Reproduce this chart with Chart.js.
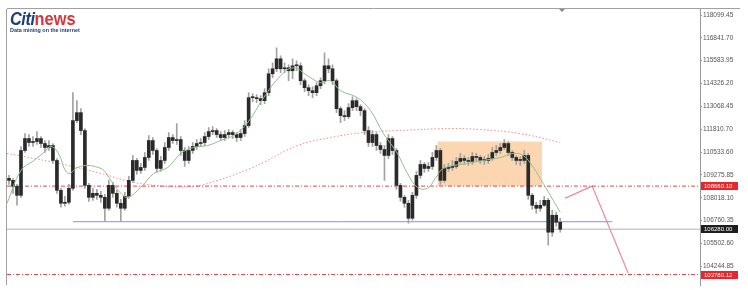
<!DOCTYPE html>
<html>
<head>
<meta charset="utf-8">
<script src="https://cdn.jsdelivr.net/npm/chart.js@4.4.1/dist/chart.umd.min.js"></script>
<style>
    html, body { margin: 0; padding: 0; background: #fff; }
    #wrap { position: relative; width: 748px; height: 290px; }
    #logo { position: absolute; left: 8px; top: 9px; width: 82px; height: 25px; background: #fff; }
    #logo .brand { position: absolute; left: 2px; top: -1px; font-family: "Liberation Sans", Arial, sans-serif; font-weight: bold; font-size: 19px; white-space: nowrap; transform: scaleX(0.86); transform-origin: left top; }
    #logo .citi { color: #1d3f7a; font-style: italic; letter-spacing: -0.5px; }
    #logo .news { color: #d8343c; }
    #logo .tag { position: absolute; left: 2px; top: 18px; font-family: "Liberation Sans", Arial, sans-serif; font-weight: bold; font-size: 5.4px; color: #1d3f7a; white-space: nowrap; }
</style>
</head>
<body>
<div id="wrap">
    <canvas id="priceChart"></canvas>
    <div id="logo"><div class="brand"><span class="citi">Citi</span><span class="news">news</span></div><div class="tag">Data mining on the internet</div></div>
</div>
<script>
// ローソク足データ (インデックス順)
const closes = [108977, 108647, 108152, 110627, 111287, 111067, 111122, 111287, 111012, 110792,
    110902, 110077, 108427, 107712, 107767, 108537, 112277, 112717, 111727, 108702,
    108042, 108262, 108152, 108042, 107437, 108702, 108262, 107712, 107437, 108097,
    108977, 110077, 109527, 109692, 110242, 111177, 110627, 109637, 110077, 110792,
    111342, 111177, 111232, 110627, 110077, 110627, 110847, 111012, 111067, 111397,
    111672, 111727, 111507, 111342, 111507, 111617, 111507, 111342, 111562, 112002,
    113542, 113542, 113487, 113377, 113817, 114862, 115137, 115687, 115137, 115192,
    115027, 115302, 115302, 114477, 114092, 113927, 113817, 114202, 114477, 115302,
    115137, 114477, 112937, 112552, 112497, 112992, 113377, 113047, 112827, 111727,
    111067, 111507, 110902, 110682, 110352, 111287, 110627, 108702, 108042, 107712,
    106887, 108152, 109252, 109857, 109637, 109747, 110242, 110627, 108977, 109637,
    109692, 109747, 110022, 110187, 110077, 110022, 110297, 110242, 110077, 110077,
    110187, 110517, 110627, 110792, 111012, 110517, 110242, 110077, 110077, 110352,
    108152, 107602, 107437, 107602, 107877, 106117, 107052, 106667, 106282];
const highs = [109252, 109087, 108757, 110847, 111562, 111507, 111397, 111672, 111397, 111177,
    111177, 111012, 110187, 108537, 108097, 108757, 113817, 113377, 112937, 111837,
    108812, 108537, 108482, 108372, 108207, 108977, 108867, 108427, 107932, 108317,
    109197, 110352, 110187, 109912, 110517, 111452, 111342, 110737, 110297, 111067,
    111617, 111507, 112112, 111397, 110792, 110847, 111067, 111232, 111287, 111617,
    111892, 111947, 111837, 111672, 111727, 111782, 111727, 111617, 111782, 112277,
    113817, 113762, 113707, 113652, 114037, 115137, 115467, 116292, 115852, 115467,
    115357, 115687, 115577, 115467, 114587, 114257, 114147, 114367, 114642, 116017,
    115687, 115357, 114587, 113047, 112827, 113212, 113597, 113487, 113157, 112937,
    111947, 111727, 111617, 111067, 110902, 111507, 111397, 110737, 108812, 108152,
    107877, 108317, 109472, 110077, 109967, 109967, 110517, 110902, 110737, 109857,
    109912, 110077, 110242, 110462, 110352, 110242, 110517, 110462, 110352, 110297,
    110407, 110792, 110902, 111012, 111232, 111122, 110627, 110352, 110297, 110627,
    110462, 108262, 107767, 107877, 108097, 107987, 107327, 107217, 106887];
const lows = [108757, 108262, 107602, 108042, 110517, 110847, 110847, 110957, 110792, 110517,
    110627, 109912, 108262, 107492, 107547, 107657, 108427, 112167, 111507, 108537,
    107822, 107877, 107932, 107767, 106722, 107327, 108042, 107492, 106722, 107327,
    107987, 108867, 109307, 109362, 109527, 110077, 110407, 109417, 109472, 109912,
    110627, 111012, 110957, 110352, 109747, 109912, 110462, 110682, 110847, 110902,
    111232, 111507, 111342, 111177, 111177, 111342, 111287, 111122, 111177, 111397,
    111892, 113322, 113267, 113157, 113212, 113652, 114642, 114972, 114917, 114917,
    114477, 114587, 115027, 114257, 113872, 113652, 113542, 113652, 114037, 114312,
    114917, 114257, 112717, 112167, 112277, 112387, 112827, 112827, 112552, 111507,
    110847, 110847, 110627, 110462, 108977, 110187, 110407, 108482, 107822, 107492,
    106612, 106777, 107987, 109087, 109417, 109472, 109582, 110077, 108757, 108867,
    109472, 109527, 109637, 109912, 109857, 109802, 109857, 110022, 109912, 109857,
    109912, 110077, 110352, 110462, 110682, 110352, 110077, 109857, 109802, 109912,
    107932, 107382, 107162, 107272, 107547, 105402, 105897, 106447, 106117];
const firstOpen = 109087;

// 移動平均線 (短期: 緑, 長期: 赤点線)
const maFast = [[-0.5, 107712], [3, 109527], [6.25, 110077], [8.75, 110517], [10.5, 110847],
    [12.25, 110517], [14.75, 109362], [17.25, 109692], [19.75, 109802], [22.25, 109692],
    [23.75, 109527], [25.5, 108977], [28, 108262], [29.75, 108042], [33, 108592],
    [36.25, 109362], [39.75, 109692], [43, 110462], [46.25, 110792], [49.75, 110902],
    [53, 111177], [56.25, 111452], [59.75, 112167], [63.75, 113542], [68, 114752],
    [71.25, 115192], [74.75, 114752], [78, 114367], [80.5, 114477], [83, 113927],
    [87.25, 113542], [90.5, 112827], [93.75, 111562], [97.25, 110462], [99.75, 109362],
    [102.25, 108592], [104.75, 108537], [106.75, 109087], [108.75, 109637], [114.75, 109912],
    [118.75, 110077], [123, 110242], [126.25, 110462], [128.75, 110352], [131.25, 109692],
    [133.75, 108812], [136.25, 107877], [138, 107217]];
const maSlow = [[-0.5, 110462], [6.25, 110187], [14.75, 109802], [23, 109362], [31.25, 108867],
    [39.75, 108647], [46.25, 108647], [52.25, 108977], [60.5, 109637], [63.75, 109967],
    [72.25, 110902], [80.5, 111342], [88.75, 111617], [97.25, 111727], [110.5, 111837],
    [118, 111782], [128, 111562], [138, 111067]];

// 水平線・ゾーン・予測線
const resistanceLevel = 108660;
const targetLevel = 103780;
const supportLevel = 106695;
const lastPrice = 106282;
const zoneTop = 111122;
const zoneRange = [107.25, 133.5];
const supportRange = [16, 151];
const projection = [[139.25, 107997], [146, 108660], [155, 103862]];

// 右軸の目盛
const tickValues = [118099.45, 116841.70, 115583.95, 114326.20, 113068.45, 111810.70,
    110533.60, 109275.85, 108018.10, 106760.35, 105502.60, 104244.85];
const tickLabels = ['118099.45', '116841.70', '115583.95', '114326.20', '113068.45', '111810.70',
    '110533.60', '109275.85', '108018.10', '106760.35', '105502.60', '104244.85'];
const markerValues = [resistanceLevel, lastPrice, targetLevel];
const markerLabels = ['108660.10', '106280.00', '103780.12'];
const markerColors = ['#e8262b', '#1e1e1e', '#e8262b'];

const X_MIN = -0.5;
const X_MAX = 173;

const toPoints = arr => arr.map(p => ({ x: p[0], y: p[1] }));
const wickData = closes.map((c, i) => ({ x: i, y: [lows[i], highs[i]] }));
const bodyData = closes.map((c, i) => ({ x: i, y: [i === 0 ? firstOpen : closes[i - 1], c] }));

// 枠線と価格ラベル
const overlayPlugin = {
    id: 'overlay',
    afterDraw(chart) {
        const { ctx, chartArea } = chart;
        const y = chart.scales.y;
        ctx.save();
        ctx.strokeStyle = '#a0a0a0';
        ctx.lineWidth = 1;
        ctx.beginPath();
        ctx.moveTo(chartArea.left - 0.5, chartArea.top);
        ctx.lineTo(chartArea.left - 0.5, chartArea.bottom);
        ctx.moveTo(chartArea.left, chartArea.top - 0.5);
        ctx.lineTo(740, chartArea.top - 0.5);
        ctx.stroke();
        // シフトマーカー
        ctx.fillStyle = '#8a8a8a';
        ctx.beginPath();
        ctx.moveTo(559, chartArea.top);
        ctx.lineTo(565, chartArea.top);
        ctx.lineTo(562, chartArea.top + 3);
        ctx.closePath();
        ctx.fill();
        ctx.font = '6px "Liberation Sans", Arial, sans-serif';
        ctx.textBaseline = 'middle';
        markerValues.forEach((v, i) => {
            const py = Math.round(y.getPixelForValue(v));
            ctx.fillStyle = markerColors[i];
            ctx.fillRect(chartArea.right + 1, py - 4, 37, 8);
            ctx.fillStyle = '#fff';
            ctx.fillText(markerLabels[i], chartArea.right + 4, py + 0.5);
        });
        ctx.restore();
    }
};

const ctx = document.getElementById('priceChart').getContext('2d');
new Chart(ctx, {
    type: 'bar',
    data: {
        datasets: [
            {
                type: 'line',
                data: [{ x: zoneRange[0], y: zoneTop }, { x: zoneRange[1], y: zoneTop }],
                borderWidth: 0,
                pointRadius: 0,
                backgroundColor: 'rgba(250, 198, 146, 0.72)',
                fill: { value: resistanceLevel },
                order: 20
            },
            {
                type: 'line',
                data: toPoints(maSlow),
                borderColor: '#f28b8b',
                borderWidth: 1,
                borderDash: [1.5, 2],
                pointRadius: 0,
                tension: 0.4,
                order: 12
            },
            {
                type: 'line',
                data: [{ x: X_MIN, y: resistanceLevel }, { x: X_MAX, y: resistanceLevel }],
                borderColor: '#e3474a',
                borderWidth: 1,
                borderDash: [4, 2, 1, 2],
                pointRadius: 0,
                order: 11
            },
            {
                type: 'line',
                data: [{ x: X_MIN, y: targetLevel }, { x: X_MAX, y: targetLevel }],
                borderColor: '#e3474a',
                borderWidth: 1,
                borderDash: [4, 2, 1, 2],
                pointRadius: 0,
                order: 11
            },
            {
                type: 'line',
                data: [{ x: X_MIN, y: lastPrice }, { x: X_MAX, y: lastPrice }],
                borderColor: '#b4b4b4',
                borderWidth: 1,
                pointRadius: 0,
                order: 11
            },
            {
                type: 'line',
                data: [{ x: supportRange[0], y: supportLevel }, { x: supportRange[1], y: supportLevel }],
                borderColor: '#8c8ce0',
                borderWidth: 1,
                pointRadius: 0,
                order: 11
            },
            {
                type: 'line',
                data: toPoints(projection),
                borderColor: '#f08a9c',
                borderWidth: 1.2,
                pointRadius: 0,
                order: 11
            },
            {
                label: 'wick',
                data: wickData,
                backgroundColor: '#a2a2a2',
                barThickness: 1,
                grouped: false,
                order: 5
            },
            {
                label: 'body',
                data: bodyData,
                backgroundColor: '#2a2a2a',
                barThickness: 3,
                minBarLength: 1,
                grouped: false,
                order: 3
            },
            {
                type: 'line',
                data: toPoints(maFast),
                borderColor: '#8fbf8f',
                borderWidth: 1,
                pointRadius: 0,
                tension: 0.4,
                order: 1
            }
        ]
    },
    options: {
        responsive: true,
        maintainAspectRatio: false,
        animation: false,
        layout: { padding: { left: 7, top: 9, bottom: 5, right: 0 } },
        plugins: {
            legend: { display: false },
            tooltip: { enabled: false }
        },
        scales: {
            x: {
                type: 'linear',
                min: X_MIN,
                max: X_MAX,
                offset: false,
                display: false
            },
            y: {
                position: 'right',
                min: 103202,
                max: 118437,
                afterBuildTicks: scale => {
                    scale.ticks = tickValues.map(v => ({ value: v }));
                },
                afterFit: scale => {
                    scale.width = 48;
                },
                ticks: {
                    padding: 1,
                    color: '#555',
                    font: { family: '"Liberation Sans", Arial, sans-serif', size: 6.5 },
                    callback: (v, i) => tickLabels[i]
                },
                grid: {
                    drawOnChartArea: false,
                    drawTicks: true,
                    tickLength: 2,
                    color: '#999'
                },
                border: { color: '#9a9a9a', width: 1 }
            }
        }
    },
    plugins: [overlayPlugin]
});
</script>
</body>
</html>
